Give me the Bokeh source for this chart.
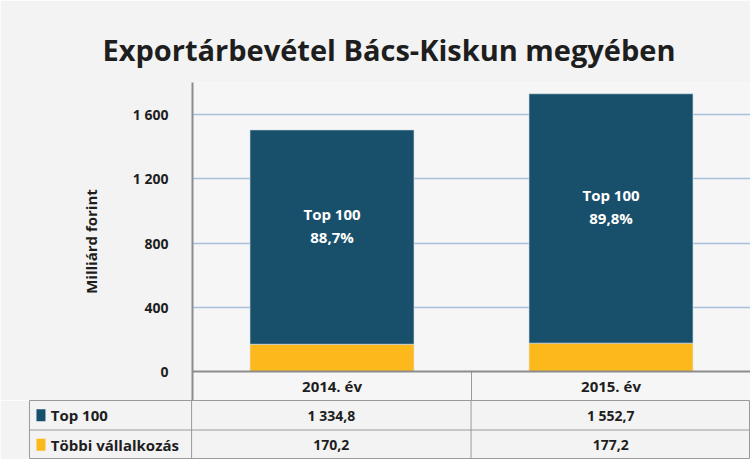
from bokeh.plotting import figure
from bokeh.models import ColumnDataSource, FactorRange, Range1d, FixedTicker, Span
from bokeh.transform import dodge
from bokeh.layouts import column
from bokeh.embed import file_html
from bokeh.resources import INLINE
from bokeh.core.properties import value

# ---------------- data ----------------
title_text = "Exportárbevétel Bács-Kiskun megyében"
categories = ["2014. év", "2015. év"]
series_names = ["Top 100", "Többi vállalkozás"]
top100 = [1334.8, 1552.7]
tobbi = [170.2, 177.2]
y_ticks = [0, 400, 800, 1200, 1600]
y_max = 1800
y_label = "Milliárd forint"

# ---------------- style ----------------
FONT = "Open Sans"
TEAL = "#18506b"
YELLOW = "#fdb81c"
series_colors = [TEAL, YELLOW]
BG = "#f3f3f3"
PLOT_BG = "#f6f6f6"
LINE = "#9a9a9a"
TXT = "#1e1e1e"
W = 750
H1 = 400
H2 = 59
HEADER = 180          # header row height in data units of the chart
LABEL_COL = 0.58      # width of the label column, in category units


def hu(v, d=1):
    s = f"{v:,.{d}f}"
    return s.replace(",", " ").replace(".", ",")


# ---------------- chart ----------------
src = ColumnDataSource(dict(
    cat=categories,
    top100=top100,
    tobbi=tobbi,
    mid=[b + t / 2 for b, t in zip(tobbi, top100)],
    lab=[f"Top 100\n{hu(100 * t / (t + b))}%" for t, b in zip(top100, tobbi)],
))

p = figure(width=W, height=H1, x_range=FactorRange(*categories),
           y_range=Range1d(-HEADER, y_max), x_axis_location=None,
           output_backend="svg", toolbar_location=None,
           min_border_left=192, min_border_right=0, min_border_top=82,
           min_border_bottom=0, frame_align=False)
p.background_fill_color = PLOT_BG
p.border_fill_color = BG
p.outline_line_color = None

p.title.text = title_text
p.title.align = "left"
p.title.offset = -90
p.title.text_font = FONT
p.title.text_font_size = "29px"
p.title.text_font_style = "bold"
p.title.text_color = TXT
p.title.standoff = 28

p.vbar_stack(["tobbi", "top100"], x="cat", width=0.588, source=src,
             color=[YELLOW, TEAL], line_color="#dfe8ee", line_width=0.6)

p.text(x="cat", y="mid", text="lab", source=src, text_color="white",
       text_font=value(FONT), text_font_style="bold", text_font_size="15px",
       text_align="center", text_baseline="middle", y_offset=-12,
       text_line_height=1.15)

# axes / grid
p.yaxis.ticker = FixedTicker(ticks=y_ticks)
p.yaxis.major_label_overrides = {t: hu(t, 0) for t in y_ticks}
p.yaxis.major_tick_line_color = None
p.yaxis.minor_tick_line_color = None
p.yaxis.axis_line_color = "#8c8c8c"
p.yaxis.axis_line_width = 2
p.yaxis.major_label_text_font = FONT
p.yaxis.major_label_text_font_style = "bold"
p.yaxis.major_label_text_font_size = "14px"
p.yaxis.major_label_text_color = TXT
p.yaxis.major_label_standoff = 18
p.yaxis.axis_label = y_label
p.yaxis.axis_label_text_font = FONT
p.yaxis.axis_label_text_font_style = "bold"
p.yaxis.axis_label_text_font_size = "15px"
p.yaxis.axis_label_text_color = TXT
p.yaxis.axis_label_standoff = 29

p.ygrid.ticker = FixedTicker(ticks=y_ticks[1:])
p.ygrid.grid_line_color = "#a9bfdb"
p.ygrid.grid_line_width = 1.5
p.xgrid.visible = False

p.add_layout(Span(location=0, dimension="width", line_color="#8c8c8c",
                  line_width=2))

# header row of the data table (category names)
p.segment(x0=dodge("cat", 0.5, range=p.x_range), y0=-HEADER,
          x1=dodge("cat", 0.5, range=p.x_range), y1=0, source=src,
          line_color=LINE, line_width=1)
p.text(x="cat", y=-HEADER / 2, text="cat", source=src, text_color=TXT,
       text_font=value(FONT), text_font_style="bold", text_font_size="15px",
       text_align="center", text_baseline="middle")

# ---------------- data table ----------------
n_cat = len(categories)
n_row = len(series_names)
t = figure(width=W, height=H2, x_range=Range1d(-LABEL_COL, n_cat),
           y_range=Range1d(n_row, 0), x_axis_location=None,
           y_axis_location=None, output_backend="svg", toolbar_location=None,
           min_border_left=29, min_border_right=0, min_border_top=0,
           min_border_bottom=0, frame_align=False)
t.background_fill_color = BG
t.border_fill_color = BG
t.outline_line_color = LINE
t.outline_line_width = 1
t.xgrid.visible = False
t.ygrid.visible = False

rows = [top100, tobbi]
cell_x, cell_y, cell_t = [], [], []
for i, vals in enumerate(rows):
    for j, v in enumerate(vals):
        cell_x.append(j + 0.5)
        cell_y.append(i + 0.5)
        cell_t.append(hu(v))
t.text(x=cell_x, y=cell_y, text=cell_t, text_color=TXT,
       text_font=value(FONT), text_font_style="bold", text_font_size="14px",
       text_align="center", text_baseline="middle")

row_y = [i + 0.5 for i in range(n_row)]
t.rect(x=[-LABEL_COL + 0.041] * n_row, y=row_y, width=9, height=12,
       width_units="screen", height_units="screen",
       fill_color=series_colors, line_color=None)
t.text(x=[-LABEL_COL + 0.076] * n_row, y=row_y, text=series_names,
       text_color=TXT, text_font=value(FONT), text_font_style="bold",
       text_font_size="15px", text_align="left", text_baseline="middle")

# inner table lines
t.segment(x0=[-LABEL_COL] * (n_row - 1), x1=[n_cat] * (n_row - 1),
          y0=list(range(1, n_row)), y1=list(range(1, n_row)),
          line_color=LINE, line_width=1)
t.segment(x0=list(range(n_cat)), x1=list(range(n_cat)),
          y0=[0] * n_cat, y1=[n_row] * n_cat, line_color=LINE, line_width=1)

layout = column(p, t, spacing=0)
open("out.html", "w").write(file_html(layout, INLINE))
